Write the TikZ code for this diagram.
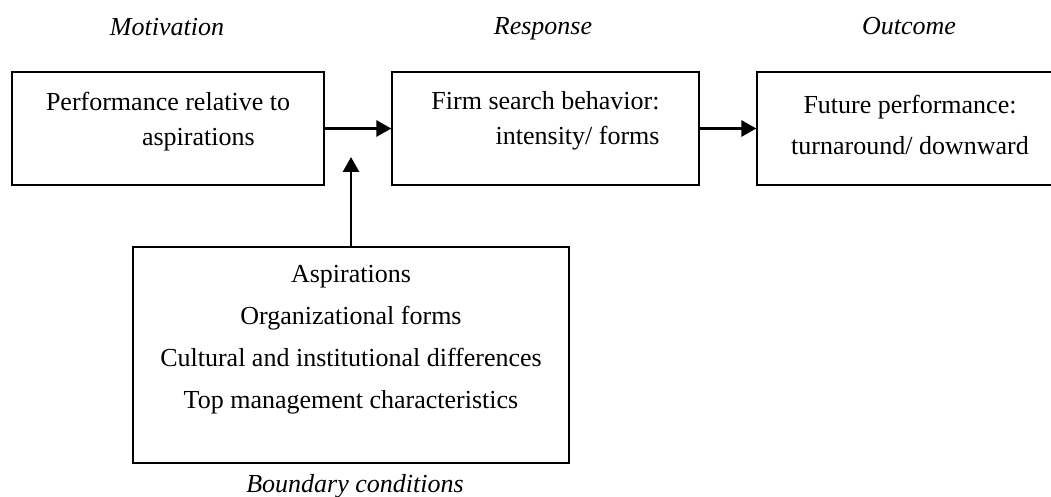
\documentclass[tikz,border=0pt]{standalone}
\usepackage{fontspec}
\setmainfont{Liberation Serif}
\usetikzlibrary{arrows.meta, positioning}

\begin{document}
\begin{tikzpicture}[
    x=1pt, y=-1pt,
    box/.style={rectangle, draw, line width=1.3pt, inner sep=0pt},
    boxtext/.style={inner sep=0pt, font=\fontsize{26}{35}\selectfont},
    heading/.style={inner sep=0pt, anchor=base, font=\fontsize{26}{30}\selectfont\itshape},
    line/.style={draw, line width=2.8pt, -{Triangle[length=15pt, width=16pt]}}
]
\useasboundingbox (0,0) rectangle (1051,497);

% Boxes
\node[box, minimum width=312pt, minimum height=113pt] (perf) at (168,128.5) {};
\node[box, minimum width=307pt, minimum height=113pt] (search) at (545.5,128.5) {};
\node[box, minimum width=306pt, minimum height=113pt] (future) at (910,128.5) {};
\node[box, minimum width=436pt, minimum height=216pt] (boundary) at (351,355) {};

% Texts in the boxes
\node[boxtext, align=left] (perftext) at ([yshift=7pt]perf.center) {Performance relative to\\\hspace*{96pt}aspirations};
\node[boxtext, align=right] (searchtext) at ([yshift=7.5pt]search.center) {Firm search behavior:\\intensity/ forms};
\node[boxtext, align=center, font=\fontsize{26}{41}\selectfont] (futuretext) at ([yshift=4pt]future.center) {Future performance:\\turnaround/ downward};
\node[boxtext, align=center, font=\fontsize{26}{42}\selectfont] (boundarytext) at ([yshift=15pt]boundary.center) {Aspirations\\Organizational forms\\Cultural and institutional differences\\Top management characteristics};

% Headings
\node[heading] (motivation) at (167,36) {Motivation};
\node[heading] (response) at (543,35) {Response};
\node[heading] (outcome) at (909,35) {Outcome};
\node[heading] (bclabel) at (355,492) {Boundary conditions};

% Arrows
\coordinate (tip) at (351,157);
\draw[line] (perf.east) -- (search.west);
\draw[line] (search.east) -- (future.west);
\draw[line] (boundary.north) -- (tip);

\end{tikzpicture}
\end{document}
